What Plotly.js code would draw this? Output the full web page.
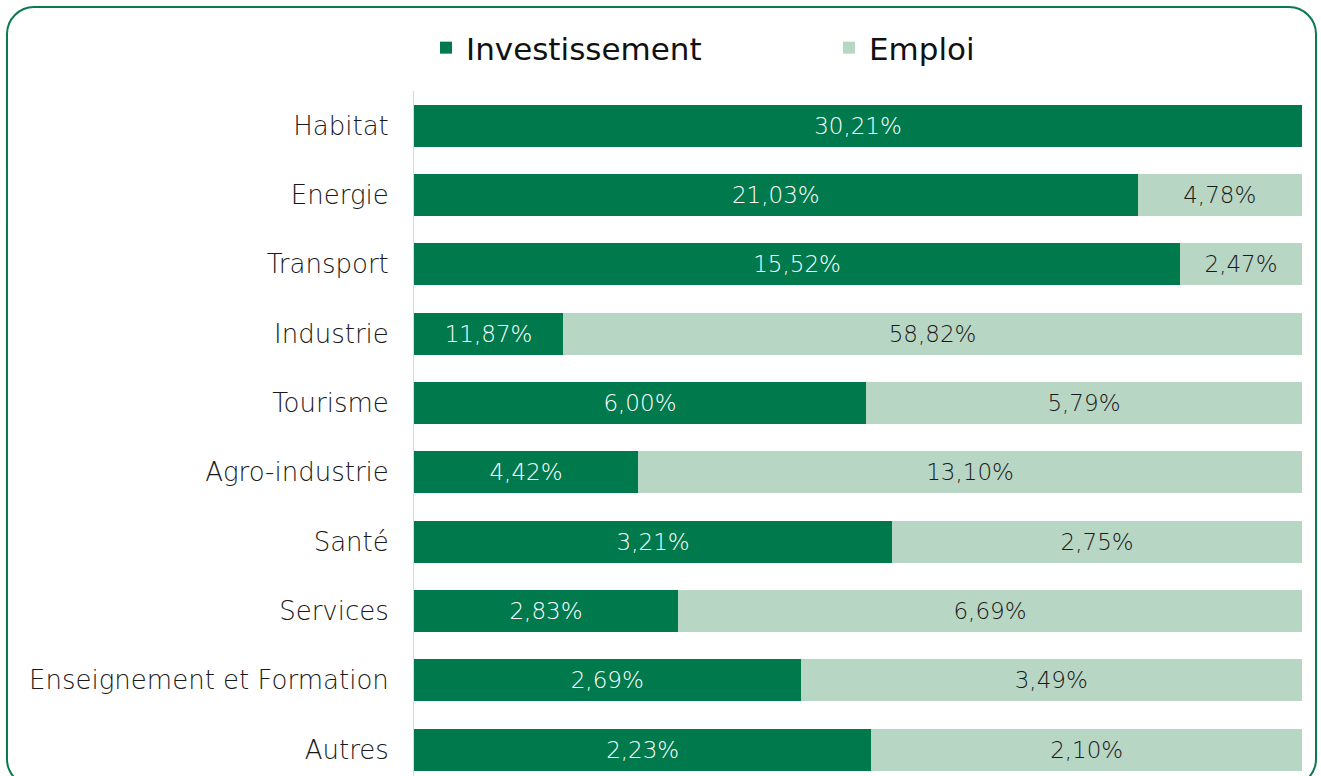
<!DOCTYPE html>
<html><head><meta charset="utf-8">
<script src="https://cdn.plot.ly/plotly-3.0.1.min.js"></script>
<style>html,body{margin:0;padding:0;background:#fff}#chart{width:1321px;height:776px}</style>
</head><body><div id="chart"></div>
<script>
const categories = ["Habitat","Energie","Transport","Industrie","Tourisme","Agro-industrie","Santé","Services","Enseignement et Formation","Autres"];
const investissement = [30.21,21.03,15.52,11.87,6.00,4.42,3.21,2.83,2.69,2.23];
const emploi = [0,4.78,2.47,58.82,5.79,13.10,2.75,6.69,3.49,2.10];

const fmt = v => v > 0 ? v.toFixed(2).replace('.', ',') + '%' : '';
const FONT = '"DejaVu Sans", Lato, sans-serif';

const W = 1321, H = 776, L = 414, R = 19, T = 91, B = 0;
const pw = W - L - R, ph = H - T - B;
const px = x => (x - L) / pw, py = y => (H - B - y) / ph;
// rounded frame
const x0 = 7, x1 = 1316, y0 = 7, y1 = 786, r = 27, k = 0.45;
const framePath = [
  `M ${px(x0 + r)},${py(y0)}`,
  `L ${px(x1 - r)},${py(y0)}`,
  `C ${px(x1 - r*k)},${py(y0)} ${px(x1)},${py(y0 + r*k)} ${px(x1)},${py(y0 + r)}`,
  `L ${px(x1)},${py(y1 - r)}`,
  `C ${px(x1)},${py(y1 - r*k)} ${px(x1 - r*k)},${py(y1)} ${px(x1 - r)},${py(y1)}`,
  `L ${px(x0 + r)},${py(y1)}`,
  `C ${px(x0 + r*k)},${py(y1)} ${px(x0)},${py(y1 - r*k)} ${px(x0)},${py(y1 - r)}`,
  `L ${px(x0)},${py(y0 + r)}`,
  `C ${px(x0)},${py(y0 + r*k)} ${px(x0 + r*k)},${py(y0)} ${px(x0 + r)},${py(y0)}`,
  'Z'].join(' ');

const traces = [
  {type:'bar', orientation:'h', name:'Investissement', y:categories, x:investissement,
   marker:{color:'#007A4D'}, text:investissement.map(fmt), textposition:'inside',
   insidetextanchor:'middle', textfont:{color:'#ffffff', size:23, family:FONT, weight:300},
   hoverinfo:'skip'},
  {type:'bar', orientation:'h', name:'Emploi', y:categories, x:emploi,
   marker:{color:'#B8D6C4'}, text:emploi.map(fmt), textposition:'inside',
   insidetextanchor:'middle', textfont:{color:'#1a1a1a', size:23, family:FONT, weight:300},
   hoverinfo:'skip'}
];

const layout = {
  width:W, height:H, margin:{l:L, r:R, t:T, b:B, pad:0},
  paper_bgcolor:'#ffffff', plot_bgcolor:'#ffffff',
  barmode:'stack', barnorm:'fraction', bargap:0.394,
  font:{family:FONT, color:'#1a1a1a'},
  xaxis:{range:[0,1], visible:false, showgrid:false, zeroline:false, fixedrange:true},
  yaxis:{type:'category', range:[9.38,-0.5], showline:true, linecolor:'#d9d9d9', linewidth:1,
         showgrid:false, zeroline:false, ticks:'', ticklabelstandoff:19,
         tickfont:{size:26, family:FONT, color:'#1a1a1a', weight:300}, fixedrange:true},
  showlegend:true,
  legend:{orientation:'h', xref:'paper', x:px(426), xanchor:'left', yref:'container', y:(H-48)/H, yanchor:'middle',
          font:{size:31, family:FONT, color:'#111111'}, entrywidth:358, entrywidthmode:'pixels',
          traceorder:'normal', itemclick:false, itemdoubleclick:false},
  shapes:[{type:'path', xref:'paper', yref:'paper', path:framePath, line:{color:'#0B7A4E', width:2}, fillcolor:'rgba(0,0,0,0)', layer:'above'}]
};

Plotly.newPlot('chart', traces, layout, {displayModeBar:false, staticPlot:true});
</script></body></html>
